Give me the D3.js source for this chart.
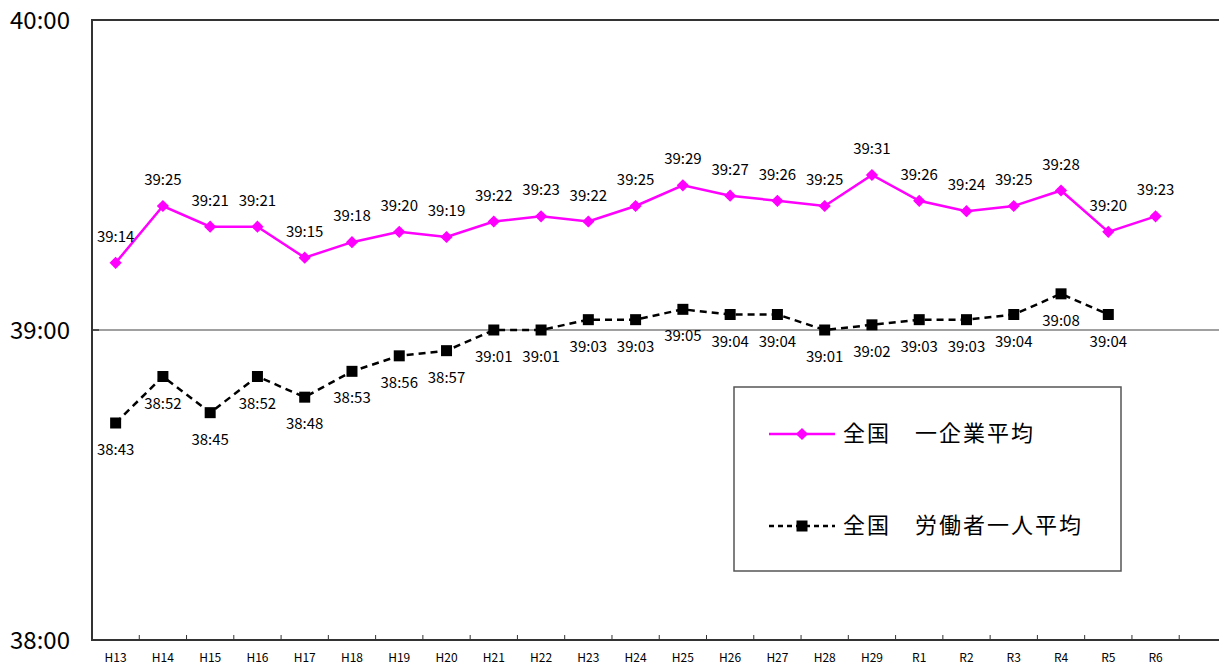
<!DOCTYPE html>
<html><head><meta charset="utf-8">
<script src="https://cdn.jsdelivr.net/npm/d3@7"></script>
<style>
html,body{margin:0;padding:0;background:#fff;}
svg{display:block;font-family:"Noto Sans CJK JP","Noto Sans",sans-serif;}
</style></head>
<body><svg id="c" width="1219" height="666"></svg>
<script>
// categories (fiscal years)
const categories = ["H13","H14","H15","H16","H17","H18","H19","H20","H21","H22","H23","H24","H25","H26","H27","H28","H29","R1","R2","R3","R4","R5","R6"];
// plotted values: minutes after 38:00
const companyAvg = [73,84,80,80,74,77,79,78,81,82,81,84,88,86,85,84,90,85,83,84,87,79,82];
const workerAvg  = [42,51,44,51,47,52,55,56,60,60,62,62,64,63,63,60,61,62,62,63,67,63,null];
// data labels as printed
const companyLabels = ["39:14","39:25","39:21","39:21","39:15","39:18","39:20","39:19","39:22","39:23","39:22","39:25","39:29","39:27","39:26","39:25","39:31","39:26","39:24","39:25","39:28","39:20","39:23"];
const workerLabels  = ["38:43","38:52","38:45","38:52","38:48","38:53","38:56","38:57","39:01","39:01","39:03","39:03","39:05","39:04","39:04","39:01","39:02","39:03","39:03","39:04","39:08","39:04",null];
// y ticks (minutes after 38:00) and labels
const yTicks = [0,60,120];
const yTickLabels = ["38:00","39:00","40:00"];
const seriesNames = ["全国　一企業平均","全国　労働者一人平均"];

(function(){
const svg = d3.select("#c");
const W = 1219;
const mL = 92, mT = 20, mB = 640, band = 47.27;

const x = d3.scaleBand().domain(categories).range([mL, mL + band*categories.length]).paddingInner(0).paddingOuter(0);
const y = d3.scaleLinear().domain([0,120]).range([mB, mT]);
const cx = d => x(d) + x.bandwidth()/2;

// gridlines
svg.append("line").attr("x1",mL).attr("x2",W).attr("y1",y(120)).attr("y2",y(120))
  .attr("stroke","#333").attr("stroke-width",2);
svg.append("line").attr("x1",mL).attr("x2",W).attr("y1",y(60)).attr("y2",y(60))
  .attr("stroke","#808080").attr("stroke-width",1.5);

// x axis
const xAxisG = svg.append("g").attr("transform",`translate(0,${mB})`);
xAxisG.append("line").attr("x1",mL).attr("x2",W).attr("y1",0).attr("y2",0).attr("stroke","#333").attr("stroke-width",2);
const boundaries = categories.map(c => x(c) + x.bandwidth()).concat([x(categories[categories.length-1]) + 2*x.bandwidth()]);
xAxisG.selectAll("line.tk").data(boundaries).join("line").attr("class","tk")
  .attr("x1",d=>d).attr("x2",d=>d).attr("y1",-5).attr("y2",0).attr("stroke","#333").attr("stroke-width",1);
xAxisG.selectAll("text").data(categories).join("text")
  .attr("x",d=>cx(d)).attr("y",22).attr("text-anchor","middle")
  .attr("font-size",12).attr("fill","#000").text(d=>d);

// y axis
svg.append("line").attr("x1",mL).attr("x2",mL).attr("y1",mT-1).attr("y2",mB+1).attr("stroke","#333").attr("stroke-width",2);
svg.selectAll("line.ytk").data(yTicks).join("line").attr("class","ytk")
  .attr("x1",mL).attr("x2",mL+7).attr("y1",d=>y(d)).attr("y2",d=>y(d)).attr("stroke","#333").attr("stroke-width",1.5);
svg.selectAll("text.yl").data(yTicks).join("text").attr("class","yl")
  .attr("x",70).attr("y",d=>y(d)+2).attr("dominant-baseline","middle").attr("text-anchor","end")
  .attr("font-size",24).attr("fill","#000").text((d,i)=>yTickLabels[i]);

const pink = "#FF00FF";
const line = d3.line().defined(d=>d[1]!=null).x(d=>cx(d[0])).y(d=>y(d[1]));
const cData = categories.map((c,i)=>[c,companyAvg[i]]);
const wData = categories.map((c,i)=>[c,workerAvg[i]]);

svg.append("path").datum(cData).attr("d",line).attr("fill","none").attr("stroke",pink).attr("stroke-width",2.5);
svg.append("path").datum(wData).attr("d",line).attr("fill","none").attr("stroke","#000").attr("stroke-width",2.5).attr("stroke-dasharray","7,5");

const diamond = d3.symbol().type(d3.symbolDiamond2).size(95);
svg.selectAll("path.cm").data(cData).join("path").attr("class","cm")
  .attr("transform",d=>`translate(${cx(d[0])},${y(d[1])})`).attr("d",diamond).attr("fill",pink);
const sq = 11;
svg.selectAll("rect.wm").data(wData.filter(d=>d[1]!=null)).join("rect").attr("class","wm")
  .attr("x",d=>cx(d[0])-sq/2).attr("y",d=>y(d[1])-sq/2).attr("width",sq).attr("height",sq).attr("fill","#000");

// data labels
svg.selectAll("text.cl").data(cData).join("text").attr("class","cl")
  .attr("x",d=>cx(d[0])).attr("y",d=>y(d[1])-25).attr("dominant-baseline","middle").attr("text-anchor","middle")
  .attr("font-size",15).attr("fill","#000").text((d,i)=>companyLabels[i]);
svg.selectAll("text.wl").data(wData.filter(d=>d[1]!=null)).join("text").attr("class","wl")
  .attr("x",d=>cx(d[0])).attr("y",d=>y(d[1])+28).attr("dominant-baseline","middle").attr("text-anchor","middle")
  .attr("font-size",15).attr("fill","#000").text(d=>workerLabels[categories.indexOf(d[0])]);

// legend
const lg = svg.append("g");
lg.append("rect").attr("x",734).attr("y",387).attr("width",387).attr("height",184)
  .attr("fill","#fff").attr("stroke","#555").attr("stroke-width",1.5);
const items = [{c:pink,dash:null,m:"d",yy:434},{c:"#000",dash:"5,4",m:"s",yy:526}];
items.forEach((it,i)=>{
  lg.append("line").attr("x1",769).attr("x2",835).attr("y1",it.yy).attr("y2",it.yy)
    .attr("stroke",it.c).attr("stroke-width",2.5).attr("stroke-dasharray",it.dash);
  if(it.m==="d") lg.append("path").attr("transform",`translate(802,${it.yy})`).attr("d",diamond).attr("fill",pink);
  else lg.append("rect").attr("x",802-sq/2).attr("y",it.yy-sq/2).attr("width",sq).attr("height",sq).attr("fill","#000");
  lg.append("text").attr("x",843).attr("y",it.yy+1).attr("dominant-baseline","middle")
    .attr("font-size",22).attr("letter-spacing",2).attr("fill","#000").text(seriesNames[i]);
});
})();
</script></body></html>
